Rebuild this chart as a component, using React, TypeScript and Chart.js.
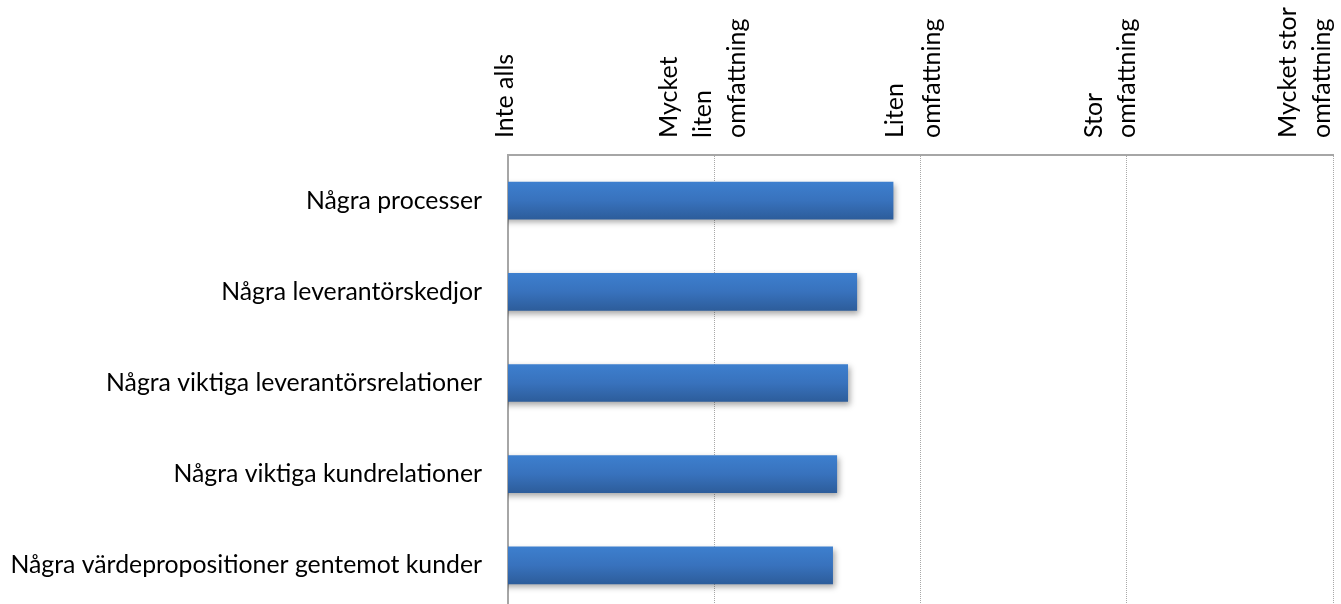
import React, { useEffect, useRef } from "react";
import { Chart, registerables } from "chart.js";

Chart.register(...registerables);

const categories = [
  "Några processer",
  "Några leverantörskedjor",
  "Några viktiga leverantörsrelationer",
  "Några viktiga kundrelationer",
  "Några värdepropositioner gentemot kunder",
];
const values = [2.867, 2.691, 2.647, 2.594, 2.574];
const scaleValues = [1, 2, 3, 4, 5];
const scaleLabels = [
  ["Inte alls"],
  ["Mycket", "liten", "omfattning"],
  ["Liten", "omfattning"],
  ["Stor", "omfattning"],
  ["Mycket stor", "omfattning"],
];

// layout-only: per-tick line height (px) and trailing blank lines used to place wrapped labels
const tickLineHeights = [33, 34.4, 36.8, 32.5, 34.33];
const tickTrailingBlanks = [5, 4, 4, 5, 5];
const TICK_LABEL_OFFSET = 195;

const FONT = "Lato, 'Open Sans', sans-serif";
const X_FONT_SIZE = 25;
const Y_FONT_SIZE = 24.8;

export default function App() {
  const ref = useRef<HTMLCanvasElement | null>(null);
  useEffect(() => {
    if (!ref.current) return;
    const barStylePlugin = {
      id: "barStyle",
      beforeDatasetsDraw(chart: any) {
        const ctx = chart.ctx;
        const meta = chart.getDatasetMeta(0);
        meta.data.forEach((el: any) => {
          const top = el.y - el.height / 2;
          const bot = el.y + el.height / 2;
          if (!isFinite(top) || !isFinite(bot)) return;
          const g = ctx.createLinearGradient(0, top, 0, bot);
          g.addColorStop(0, "#3d7fce");
          g.addColorStop(0.5, "#3872bd");
          g.addColorStop(1, "#2d5d9b");
          el.options = Object.assign({}, el.options, { backgroundColor: g });
        });
        ctx.save();
        ctx.shadowColor = "rgba(0,0,0,0.35)";
        ctx.shadowBlur = 6;
        ctx.shadowOffsetX = 2;
        ctx.shadowOffsetY = 3;
      },
      afterDatasetsDraw(chart: any) {
        chart.ctx.restore();
      },
    };
    const labelFor = (v: number) => {
      const i = scaleValues.indexOf(v);
      if (i < 0) return "";
      const blanks = new Array(tickTrailingBlanks[i]).fill("");
      return [...scaleLabels[i], ...blanks];
    };
    const chart = new Chart(ref.current, {
      type: "bar",
      data: {
        labels: categories,
        datasets: [
          {
            data: values,
            barThickness: 37,
            borderWidth: 0,
            backgroundColor: "#3872bd",
          },
        ],
      },
      options: {
        indexAxis: "y",
        responsive: false,
        animation: false,
        layout: { padding: { left: 0, right: 8, top: 0, bottom: 0 } },
        plugins: { legend: { display: false }, tooltip: { enabled: false } },
        scales: {
          x: {
            position: "top",
            min: 1,
            max: 5,
            afterFit: (s: any) => {
              s.height = 155;
              s.paddingLeft = 0;
              s.paddingRight = 0;
              s.paddingTop = 0;
              s.paddingBottom = 0;
            },
            ticks: {
              stepSize: 1,
              autoSkip: false,
              minRotation: 90,
              maxRotation: 90,
              padding: 17,
              labelOffset: TICK_LABEL_OFFSET,
              color: "#000",
              font: (c: any) => {
                const i = scaleValues.indexOf(c.tick ? c.tick.value : -1);
                const lh = i >= 0 ? tickLineHeights[i] : 34;
                return { family: FONT, size: X_FONT_SIZE, lineHeight: lh / X_FONT_SIZE };
              },
              callback: (v: any) => labelFor(Number(v)),
            },
            grid: {
              drawTicks: false,
              color: "#a8a8a8",
              lineWidth: 1,
            },
            border: { display: true, color: "#a6a6a6", width: 2, dash: [1, 1] },
          },
          y: {
            afterFit: (s: any) => {
              s.width = 508;
              s.paddingLeft = 0;
              s.paddingRight = 0;
              s.paddingTop = 0;
              s.paddingBottom = 0;
            },
            ticks: {
              padding: 26,
              color: "#000",
              font: { family: FONT, size: Y_FONT_SIZE },
            },
            grid: { display: false, drawTicks: false },
            border: { display: true, color: "#a6a6a6", width: 2 },
          },
        },
      },
      plugins: [barStylePlugin],
    } as any);
    return () => chart.destroy();
  }, []);
  return (
    <div
      style={{
        position: "fixed",
        left: 0,
        top: 0,
        width: 1341,
        height: 604,
        overflow: "hidden",
        background: "#fff",
      }}
    >
      <canvas ref={ref} width={1341} height={611} style={{ display: "block" }} />
    </div>
  );
}
